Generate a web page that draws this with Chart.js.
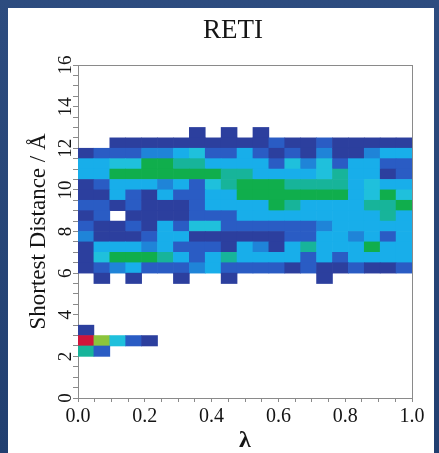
<!DOCTYPE html>
<html>
<head>
<meta charset="utf-8">
<title>RETI</title>
<script src="https://cdn.jsdelivr.net/npm/chart.js@4.4.1/dist/chart.umd.min.js"></script>
<style>
  html, body { margin: 0; padding: 0; }
  body {
    width: 439px; height: 453px; overflow: hidden; position: relative;
    background: linear-gradient(to bottom, #2d4c7f 0%, #213f70 100%);
  }
  #panel { position: absolute; left: 8px; top: 8px; width: 426px; height: 445px; background: #fff; }
  #retiChart { position: absolute; left: 0; top: 0; }
</style>
</head>
<body>
<div id="panel"></div>
<canvas id="retiChart" width="439" height="453"></canvas>
<script>
// lambda windows across 0..1, distance rows of 0.5 A
var lambdaBins = 21;
var rowHeight = 0.5;

// lower edge (A) of each distance row
var distRows = [12.5, 12.0, 11.5, 11.0, 10.5, 10.0, 9.5, 9.0, 8.5, 8.0, 7.5, 7.0, 6.5, 6.0, 5.5, 3.0, 2.5, 2.0];

// population level per cell (index into levelColors), null = empty
var n = null;
var cellLevels = [
  [n, n, n, n, n, n, n, 0, n, 0, n, 0, n, n, n, n, n, n, n, n, n],
  [n, n, 0, 0, 0, 0, 0, 0, 0, 0, 0, 0, 1, 0, 0, 1, 0, 0, 0, 0, 0],
  [0, 1, 1, 1, 2, 2, 3, 4, 1, 1, 3, 1, 0, 1, 0, 2, 0, 0, 2, 3, 3],
  [3, 3, 4, 4, 6, 6, 5, 5, 3, 3, 3, 3, 1, 4, 2, 4, 1, 3, 3, 1, 1],
  [3, 3, 6, 6, 6, 6, 6, 6, 6, 5, 5, 3, 3, 3, 3, 4, 5, 3, 3, 0, 1],
  [0, 1, 3, 3, 3, 2, 3, 1, 4, 5, 6, 6, 6, 5, 5, 5, 5, 3, 4, 3, 3],
  [0, 0, 3, 1, 0, 3, 1, 1, 3, 3, 6, 6, 6, 6, 6, 6, 6, 3, 4, 6, 4],
  [1, 1, 0, 1, 0, 0, 0, 1, 3, 3, 3, 3, 6, 5, 3, 3, 3, 3, 5, 5, 6],
  [0, 1, n, 0, 0, 0, 0, 1, 1, 1, 3, 3, 3, 3, 3, 3, 3, 3, 3, 5, 3],
  [1, 0, 0, 1, 0, 3, 1, 4, 4, 1, 1, 1, 1, 1, 1, 2, 3, 3, 3, 3, 3],
  [2, 0, 0, 0, 1, 3, 3, 0, 0, 0, 0, 0, 0, 1, 1, 3, 3, 2, 3, 1, 3],
  [0, 3, 3, 3, 2, 3, 1, 1, 1, 0, 3, 2, 0, 3, 5, 3, 3, 3, 6, 3, 3],
  [0, 4, 6, 6, 6, 5, 3, 1, 3, 5, 3, 3, 3, 3, 1, 3, 1, 3, 3, 3, 3],
  [0, 1, 2, 3, 1, 1, 1, 2, 3, 1, 1, 1, 1, 0, 1, 0, 0, 1, 0, 0, 1],
  [n, 0, n, 0, n, n, 0, n, n, 0, n, n, n, n, n, 0, n, n, n, n, n],
  [0, n, n, n, n, n, n, n, n, n, n, n, n, n, n, n, n, n, n, n, n],
  [8, 7, 4, 1, 0, n, n, n, n, n, n, n, n, n, n, n, n, n, n, n, n],
  [5, 1, n, n, n, n, n, n, n, n, n, n, n, n, n, n, n, n, n, n, n]
];

// low -> high population
var levelColors = ['#2c3f9e', '#2a5cc4', '#1f84d8', '#18aeea', '#1fc0dc', '#17b49a', '#10ae4c', '#8cc43c', '#d0143a'];

var yTickLabels = [0, 2, 4, 6, 8, 10, 12, 14, 16];

var serif = '"Liberation Serif", "Times New Roman", serif';

var cells = [], cellColors = [];
distRows.forEach(function(lo, r) {
  cellLevels[r].forEach(function(lv, c) {
    if (lv === null) return;
    cells.push({ x: (c + 0.5) / lambdaBins, y: [lo, lo + rowHeight] });
    cellColors.push(levelColors[lv]);
  });
});

// y tick numbers are drawn turned on their side
var sideLabels = {
  id: 'sideLabels',
  afterDraw: function(chart) {
    var sc = chart.scales.y, c = chart.ctx;
    c.save();
    c.fillStyle = '#151515';
    c.font = '19px ' + serif;
    c.textAlign = 'center';
    c.textBaseline = 'middle';
    yTickLabels.forEach(function(v) {
      c.save();
      c.translate(sc.right - 12, sc.getPixelForValue(v));
      c.rotate(-Math.PI / 2);
      c.fillText(String(v), 0, 0);
      c.restore();
    });
    c.restore();
  }
};

var axisGray = '#8a8a8a';

new Chart(document.getElementById('retiChart').getContext('2d'), {
  type: 'bar',
  data: {
    datasets: [{
      data: cells,
      backgroundColor: cellColors,
      borderWidth: 0,
      barPercentage: 1,
      categoryPercentage: 1
    }]
  },
  options: {
    responsive: false,
    animation: false,
    layout: { padding: { left: 27, right: 0, top: 0, bottom: 0 } },
    plugins: {
      legend: { display: false },
      tooltip: { enabled: false },
      title: {
        display: true,
        text: 'RETI',
        color: '#151515',
        font: { family: serif, size: 27, weight: 'normal' },
        padding: { top: 15, bottom: 17.6 }
      }
    },
    scales: {
      x: {
        type: 'linear',
        position: 'bottom',
        min: 0,
        max: 1,
        offset: false,
        grid: { offset: false, drawOnChartArea: false, tickLength: 4, color: axisGray },
        border: { color: axisGray },
        ticks: {
          stepSize: 0.05,
          autoSkip: false,
          maxRotation: 0,
          padding: 3,
          color: '#151515',
          font: { family: serif, size: 20 },
          callback: function(v) {
            return Math.abs(v * 5 - Math.round(v * 5)) < 1e-6 ? v.toFixed(1) : '';
          }
        },
        title: {
          display: true,
          text: 'λ',
          color: '#151515',
          font: { family: serif, size: 24, weight: 'bold', lineHeight: 1 },
          padding: 0
        },
        afterFit: function(s) { s.height = 55; }
      },
      y: {
        type: 'linear',
        position: 'left',
        min: 0,
        max: 16,
        grid: { drawOnChartArea: false, tickLength: 5, color: axisGray },
        border: { color: axisGray },
        ticks: { display: false, stepSize: 0.5, autoSkip: false },
        title: {
          display: true,
          text: 'Shortest Distance / Å',
          color: '#151515',
          font: { family: serif, size: 23, lineHeight: 1 },
          padding: 0
        },
        afterFit: function(s) { s.width = 51; }
      },
      xTop: {
        type: 'linear',
        position: 'top',
        display: true,
        grid: { drawOnChartArea: false, drawTicks: false },
        border: { color: axisGray },
        ticks: { display: false },
        afterFit: function(s) { s.height = 0; }
      },
      yRight: {
        type: 'linear',
        position: 'right',
        display: true,
        grid: { drawOnChartArea: false, drawTicks: false },
        border: { color: axisGray },
        ticks: { display: false },
        afterFit: function(s) { s.width = 27; }
      }
    }
  },
  plugins: [sideLabels]
});
</script>
</body>
</html>
